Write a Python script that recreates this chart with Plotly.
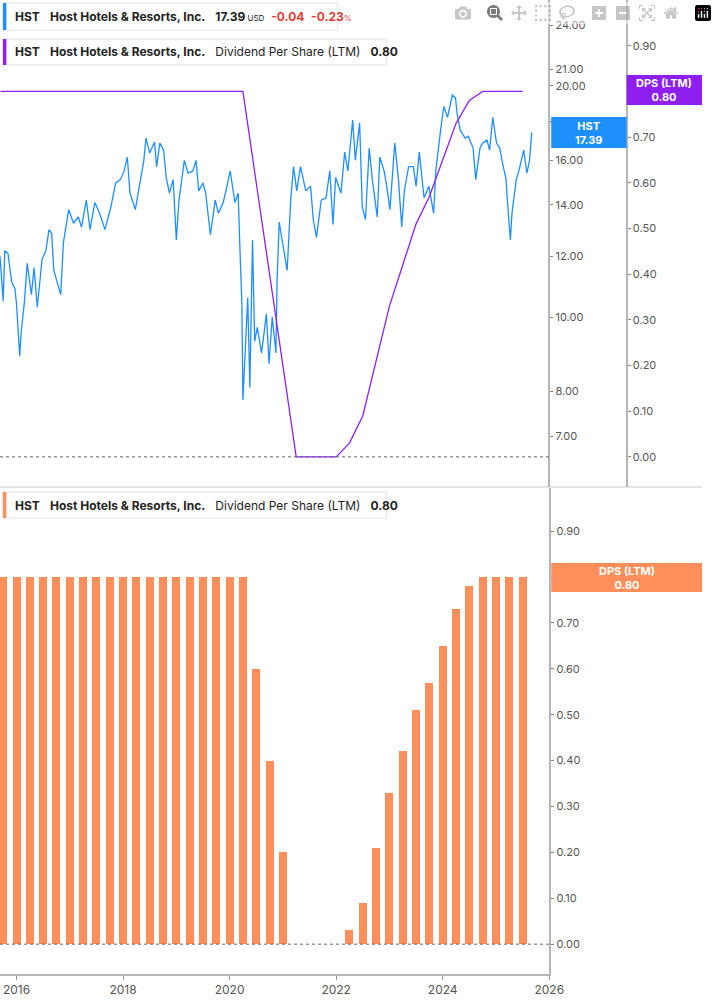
import plotly.graph_objects as go

# HST share price (decimal year, USD)
price_t = [2015.69, 2015.75, 2015.78, 2015.84, 2015.91, 2015.97, 2016.0, 2016.06, 2016.09, 2016.15,
           2016.20, 2016.28, 2016.33, 2016.39, 2016.48, 2016.55, 2016.61, 2016.66, 2016.70, 2016.83,
           2016.88, 2016.98, 2017.07, 2017.16, 2017.22, 2017.31, 2017.38, 2017.47, 2017.56, 2017.66,
           2017.77, 2017.86, 2017.95, 2018.02, 2018.08, 2018.13, 2018.23, 2018.32, 2018.39, 2018.43,
           2018.50, 2018.59, 2018.63, 2018.69, 2018.76, 2018.81, 2018.87, 2018.94, 2019.0, 2019.05,
           2019.15, 2019.22, 2019.31, 2019.37, 2019.42, 2019.50, 2019.55, 2019.64, 2019.73, 2019.79,
           2019.88, 2019.95, 2020.01, 2020.10, 2020.16, 2020.19, 2020.23, 2020.25, 2020.30, 2020.34,
           2020.38, 2020.43, 2020.47, 2020.52, 2020.60, 2020.69, 2020.74, 2020.80, 2020.87, 2020.89,
           2020.93, 2021.08, 2021.15, 2021.20, 2021.26, 2021.33, 2021.43, 2021.52, 2021.57, 2021.63,
           2021.72, 2021.81, 2021.88, 2021.94, 2021.99, 2022.09, 2022.16, 2022.22, 2022.31, 2022.36,
           2022.44, 2022.49, 2022.55, 2022.62, 2022.68, 2022.77, 2022.82, 2022.90, 2022.95, 2023.01,
           2023.10, 2023.17, 2023.23, 2023.28, 2023.36, 2023.45, 2023.50, 2023.56, 2023.65, 2023.74,
           2023.83, 2023.87, 2023.96, 2024.02, 2024.09, 2024.18, 2024.24, 2024.27, 2024.33, 2024.42,
           2024.48, 2024.57, 2024.62, 2024.70, 2024.75, 2024.83, 2024.88, 2024.94, 2025.01, 2025.07,
           2025.12, 2025.19, 2025.21, 2025.27, 2025.30, 2025.38, 2025.43, 2025.52, 2025.58, 2025.63,
           2025.67]
price = [12.0, 10.5, 12.2, 12.1, 11.1, 10.9, 10.4, 8.9, 9.6, 10.5,
         11.75, 10.7, 11.6, 10.3, 11.9, 12.2, 13.0, 12.85, 11.5, 10.7,
         12.5, 13.8, 13.25, 13.5, 13.1, 14.2, 13.0, 14.1, 13.65, 13.0,
         13.9, 14.95, 15.1, 15.5, 16.15, 14.5, 13.8, 15.1, 16.0, 17.1,
         16.35, 16.9, 15.7, 16.85, 16.5, 15.2, 14.5, 15.1, 12.6, 14.2,
         16.0, 15.4, 15.5, 16.0, 14.6, 14.95, 14.5, 12.8, 14.2, 13.65,
         14.1, 14.8, 15.5, 14.1, 14.5, 12.5, 10.4, 7.8, 9.5, 10.6,
         8.1, 12.6, 9.3, 9.7, 8.98, 10.1, 8.7, 10.0, 8.98, 11.1,
         13.3, 11.5, 14.3, 15.7, 14.6, 15.7, 14.6, 14.8, 13.4, 12.7,
         14.2, 14.3, 15.5, 13.2, 15.2, 14.5, 16.4, 15.5, 18.05, 16.0,
         17.9, 13.9, 13.4, 16.6, 15.1, 13.5, 16.15, 15.5, 14.8, 13.8,
         16.85, 15.1, 13.1, 14.6, 15.7, 15.7, 14.8, 16.4, 14.3, 14.8,
         13.65, 15.5, 17.5, 18.8, 18.2, 19.46, 19.3, 18.4, 17.5, 17.1,
         17.2, 16.6, 15.1, 16.6, 16.85, 17.0, 16.5, 18.2, 16.85, 16.6,
         15.9, 15.1, 14.3, 12.6, 13.65, 15.1, 15.5, 16.5, 15.4, 16.0,
         17.4]

# Dividend per share (LTM), quarterly
dps_t = [2015.75, 2016.0, 2016.25, 2016.5, 2016.75, 2017.0, 2017.25, 2017.5, 2017.75, 2018.0,
         2018.25, 2018.5, 2018.75, 2019.0, 2019.25, 2019.5, 2019.75, 2020.0, 2020.25, 2020.5,
         2020.75, 2021.0, 2021.25, 2021.5, 2021.75, 2022.0, 2022.25, 2022.5, 2022.75, 2023.0,
         2023.25, 2023.5, 2023.75, 2024.0, 2024.25, 2024.5, 2024.75, 2025.0, 2025.25, 2025.5]
dps = [0.80, 0.80, 0.80, 0.80, 0.80, 0.80, 0.80, 0.80, 0.80, 0.80,
       0.80, 0.80, 0.80, 0.80, 0.80, 0.80, 0.80, 0.80, 0.80, 0.60,
       0.40, 0.20, 0.0, 0.0, 0.0, 0.0, 0.03, 0.09, 0.21, 0.33,
       0.42, 0.51, 0.57, 0.65, 0.73, 0.78, 0.80, 0.80, 0.80, 0.80]
# line in top panel starts from the left edge
dps_line_t = [2015.7] + dps_t[1:]
dps_line = [0.80] + dps[1:]

price_ticks = [7, 8, 10, 12, 14, 16, 18, 20, 21, 24]
dps_ticks = [0.0, 0.1, 0.2, 0.3, 0.4, 0.5, 0.6, 0.7, 0.8, 0.9]
years = [2016, 2018, 2020, 2022, 2024, 2026]

BLUE = '#1E8FFF'
PURPLE = '#8F1FF0'
ORANGE = '#FF8F5A'
GRAY = '#555555'
W, H = 717, 1005
XR = 561 / W

fig = go.Figure()
fig.add_trace(go.Scatter(x=price_t, y=price, mode='lines', line=dict(color=BLUE, width=1.3),
                         xaxis='x2', yaxis='y'))
fig.add_trace(go.Scatter(x=dps_line_t, y=dps_line, mode='lines', line=dict(color=PURPLE, width=1.3),
                         xaxis='x2', yaxis='y2'))
fig.add_trace(go.Bar(x=dps_t, y=dps, width=0.15, marker=dict(color=ORANGE, line=dict(width=0)),
                     xaxis='x', yaxis='y3'))

tickfont = dict(family='Inter', size=11, color=GRAY)
common_y = dict(ticks='outside', ticklen=3, tickcolor='#888', tickfont=tickfont, showgrid=False,
                zeroline=False, showline=True, linecolor='#b5b5b5', linewidth=2, tickformat='.2f')

fig.update_layout(
    width=W, height=H, margin=dict(l=0, r=0, t=0, b=0),
    plot_bgcolor='white', paper_bgcolor='white', showlegend=False, bargap=0,
    font=dict(family='Inter', color=GRAY),
    xaxis=dict(domain=[0, XR], anchor='y3', range=[2015.69, 2026.0], tickvals=years,
               ticktext=[str(y) for y in years], ticks='outside', ticklen=4, tickcolor='#999',
               tickfont=dict(family='Inter', size=12, color=GRAY), showgrid=False, zeroline=False,
               showline=True, linecolor='#b5b5b5', linewidth=2),
    xaxis2=dict(domain=[0, XR], anchor='y', matches='x', visible=False),
    yaxis=dict(domain=[(H - 487) / H, 1], type='log', range=[0.7789, 1.4128], side='right',
               anchor='free', position=XR, tickvals=price_ticks, **common_y),
    yaxis2=dict(range=[-0.066, 1.0], overlaying='y', side='right', anchor='free',
                position=640 / W, tickvals=dps_ticks, **common_y),
    yaxis3=dict(domain=[(H - 974) / H, (H - 488) / H], range=[-0.065, 0.994], side='right',
                anchor='x', tickvals=dps_ticks, **common_y),
)


def px_x(v):
    return v / W


def px_y(v):
    return 1 - v / H


shapes = [
    # panel separator
    dict(type='line', xref='paper', yref='paper', x0=0, x1=1, y0=px_y(487), y1=px_y(487),
         line=dict(color='#c8c8c8', width=1)),
    # zero lines
    dict(type='line', xref='paper', yref='y2', x0=0, x1=XR, y0=0, y1=0,
         line=dict(color='#666', width=1, dash='dot')),
    dict(type='line', xref='paper', yref='y3', x0=0, x1=XR, y0=0, y1=0,
         line=dict(color='#666', width=1, dash='dot')),
]

annotations = []
# legend boxes
for (x1, y0, y1, color, parts) in [
    (345, 3, 30, BLUE, "<b>HST</b>   <b>Host Hotels &amp; Resorts, Inc.</b>   <b>17.39</b>"
                       "<span style='font-size:8px'> USD</span>  "
                       "<span style='color:#e0403a'><b>-0.04</b>  <b>-0.23</b></span>"
                       "<span style='color:#e0403a;font-size:8px'>%</span>"),
    (395, 39, 65, PURPLE, "<b>HST</b>   <b>Host Hotels &amp; Resorts, Inc.</b>   "
                          "Dividend Per Share (LTM)   <b>0.80</b>"),
    (395, 492, 518, ORANGE, "<b>HST</b>   <b>Host Hotels &amp; Resorts, Inc.</b>   "
                            "Dividend Per Share (LTM)   <b>0.80</b>"),
]:
    shapes.append(dict(type='rect', xref='paper', yref='paper', x0=px_x(3), x1=px_x(x1),
                       y0=px_y(y1), y1=px_y(y0), line=dict(color='#e2e2e2', width=1),
                       fillcolor='white', layer='above'))
    shapes.append(dict(type='rect', xref='paper', yref='paper', x0=px_x(3), x1=px_x(6.5),
                       y0=px_y(y1), y1=px_y(y0), line=dict(width=0), fillcolor=color, layer='above'))
    annotations.append(dict(xref='paper', yref='paper', x=px_x(13), y=px_y((y0 + y1) / 2),
                            xanchor='left', yanchor='middle', showarrow=False, text=parts,
                            font=dict(family='Inter', size=12, color='#222')))

# last value labels
for (x0, x1, y0, y1, color, text) in [
    (563, 640, 117, 148, BLUE, "<b>HST<br>17.39</b>"),
    (640, 717, 75, 105, PURPLE, "<b>DPS (LTM)<br>0.80</b>"),
    (563, 717, 563, 592, ORANGE, "<b>DPS (LTM)<br>0.80</b>"),
]:
    shapes.append(dict(type='rect', xref='paper', yref='paper', x0=px_x(x0), x1=px_x(x1),
                       y0=px_y(y1), y1=px_y(y0), line=dict(width=0), fillcolor=color, layer='above'))
    annotations.append(dict(xref='paper', yref='paper', x=px_x((x0 + x1) / 2), y=px_y((y0 + y1) / 2),
                            xanchor='center', yanchor='middle', showarrow=False, text=text,
                            font=dict(family='Inter', size=11, color='white')))

fig.update_layout(shapes=shapes, annotations=annotations)
fig.write_html("out.html")

# drop the default page margin so the chart sits at the window's corner
with open("out.html", encoding="utf-8") as f:
    html = f.read()
html = html.replace("<body>", "<body style=\"margin:0\">", 1)
with open("out.html", "w", encoding="utf-8") as f:
    f.write(html)
